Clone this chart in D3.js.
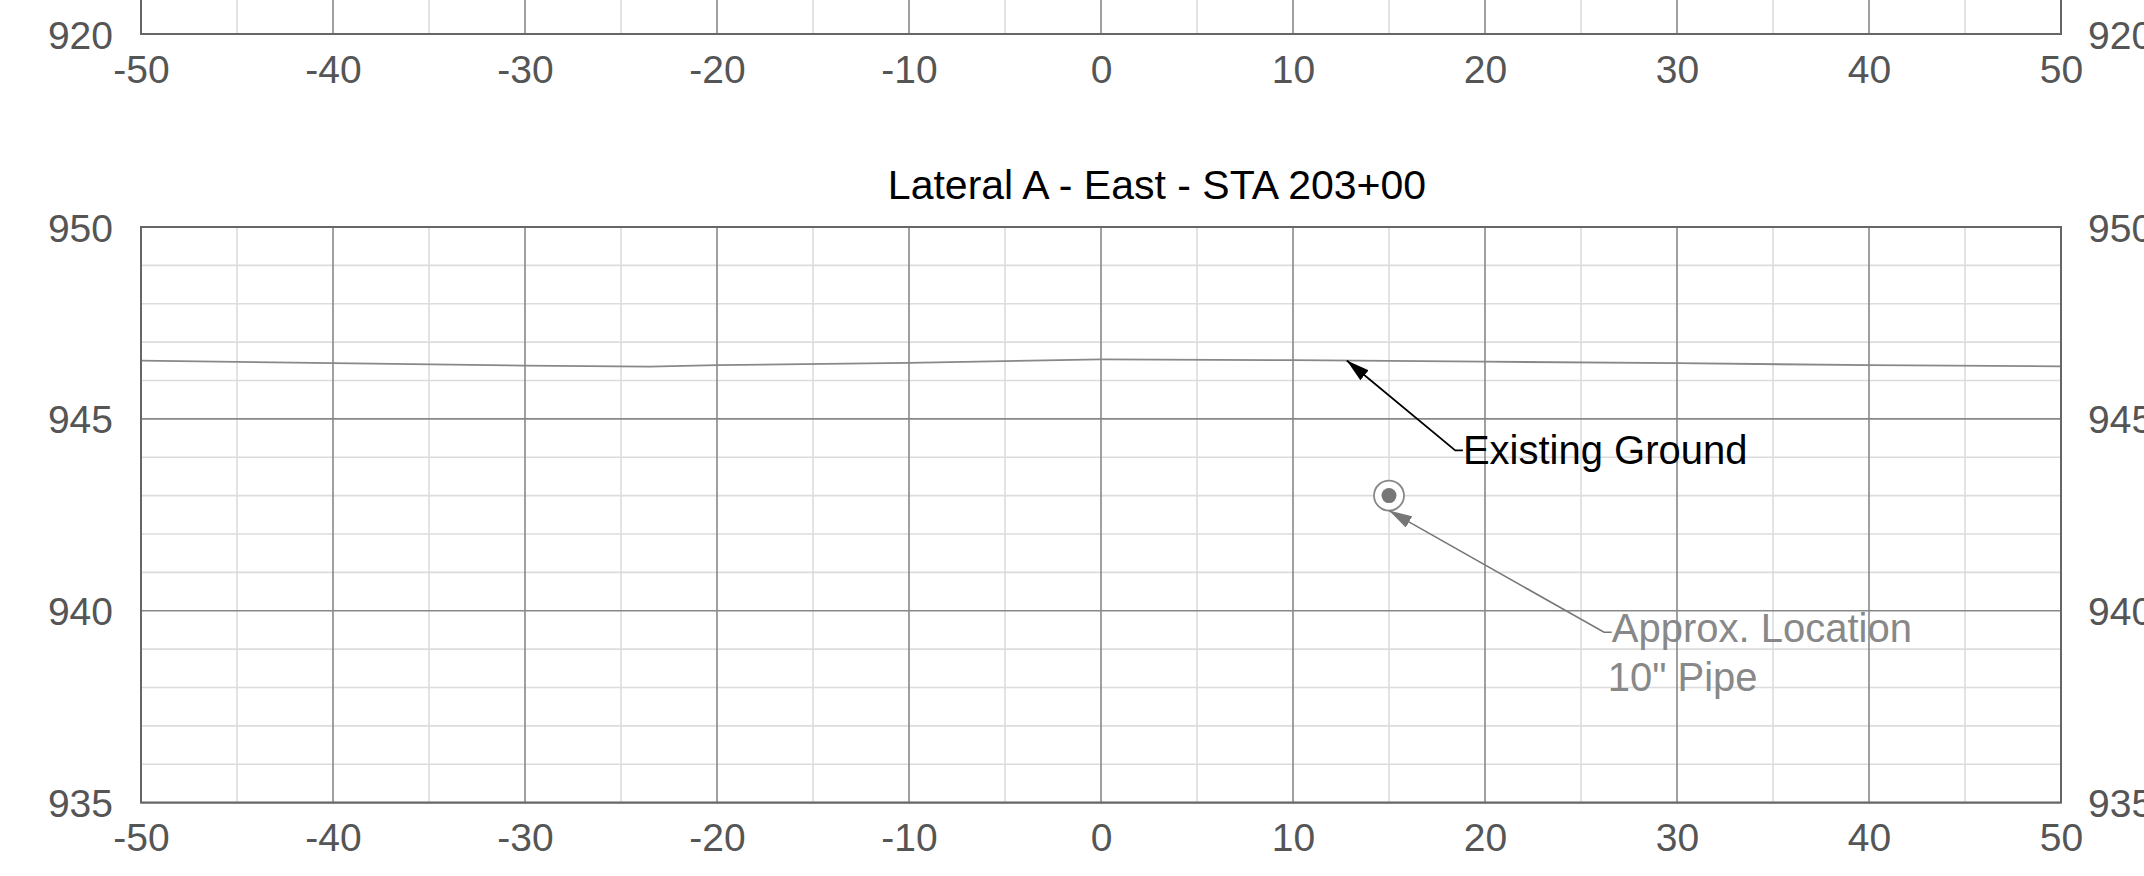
<!DOCTYPE html>
<html>
<head>
<meta charset="utf-8">
<script src="https://cdn.jsdelivr.net/npm/d3@7"></script>
<style>
html,body{margin:0;padding:0;background:#fff;overflow:hidden;}
svg{display:block;font-family:"Liberation Sans",Arial,Helvetica,sans-serif;}
</style>
</head>
<body>
<script>
// ---------- data ----------
const xTicks = [-50,-40,-30,-20,-10,0,10,20,30,40,50];
const xMinor = [-45,-35,-25,-15,-5,5,15,25,35,45];
const mainTitle = "Lateral A - East - STA 203+00";
const mainYTicks = [935,940,945,950];
const mainYDomain = [935,950];
const prevYTicks = [920];
const prevYDomain = [920,935];
// existing ground profile (offset ft, elevation ft)
const groundX    = [-50, -40, -30, -23.5, -20, -10, 0, 10, 20, 30, 40, 50];
const groundElev = [946.52, 946.45, 946.39, 946.36, 946.40, 946.46, 946.55, 946.53, 946.49, 946.45, 946.40, 946.37];
// pipe location
const pipeX = [15];
const pipeElev = [943.0];
// annotation labels
const groundLabel = ["Existing Ground"];
const pipeLabel = ["Approx. Location", "10\" Pipe"];

// ---------- layout ----------
const W = 2144, H = 876;
const left = 141, right = 2061;
const panelH = 575.6;
const mainTop = 227;
const prevTop = 34 - panelH;

const svg = d3.select("body").append("svg").attr("width", W).attr("height", H);

const defs = svg.append("defs");
function marker(id, color){
  defs.append("marker").attr("id", id)
    .attr("viewBox", "0 0 23 13").attr("refX", 23).attr("refY", 6.5)
    .attr("markerWidth", 23).attr("markerHeight", 13)
    .attr("markerUnits", "userSpaceOnUse").attr("orient", "auto")
    .append("path").attr("d", "M0,0 L23,6.5 L0,13 Z").attr("fill", color);
}
marker("arrBlack", "#000");
marker("arrGray", "#777");

const x = d3.scaleLinear().domain([-50,50]).range([left,right]);
const fmt = d => String(d);

function drawPanel(top, yDomain, yTicks){
  const y = d3.scaleLinear().domain(yDomain).range([top+panelH, top]);
  const g = svg.append("g");
  const yMinor = d3.range(yDomain[0], yDomain[1]+0.001, 1).filter(v => (v - yDomain[0]) % 5 !== 0);
  const yMajor = d3.range(yDomain[0], yDomain[1]+0.001, 5);
  // minor grid
  g.selectAll(".vmin").data(xMinor).join("line")
    .attr("x1", d=>x(d)).attr("x2", d=>x(d)).attr("y1", top).attr("y2", top+panelH)
    .attr("stroke", "#dcdcdc").attr("stroke-width", 1.6);
  g.selectAll(".hmin").data(yMinor).join("line")
    .attr("x1", left).attr("x2", right).attr("y1", d=>y(d)).attr("y2", d=>y(d))
    .attr("stroke", "#dcdcdc").attr("stroke-width", 1.6);
  // major grid
  g.selectAll(".vmaj").data(xTicks).join("line")
    .attr("x1", d=>x(d)).attr("x2", d=>x(d)).attr("y1", top).attr("y2", top+panelH)
    .attr("stroke", "#888").attr("stroke-width", 1.6);
  g.selectAll(".hmaj").data(yMajor).join("line")
    .attr("x1", left).attr("x2", right).attr("y1", d=>y(d)).attr("y2", d=>y(d))
    .attr("stroke", "#888").attr("stroke-width", 1.6);
  // axes labels
  const axB = g.append("g").attr("transform", `translate(0,${top+panelH})`)
    .call(d3.axisBottom(x).tickValues(xTicks).tickSize(0).tickPadding(21).tickFormat(fmt));
  const axL = g.append("g").attr("transform", `translate(${left},0)`)
    .call(d3.axisLeft(y).tickValues(yTicks).tickSize(0).tickPadding(28).tickFormat(fmt));
  const axR = g.append("g").attr("transform", `translate(${right},0)`)
    .call(d3.axisRight(y).tickValues(yTicks).tickSize(0).tickPadding(27).tickFormat(fmt));
  [axB, axL, axR].forEach(a => {
    a.select(".domain").remove();
    a.selectAll("text").attr("fill", "#555").style("font-size", "39px")
      .style("font-family", '"Liberation Sans",Arial,sans-serif');
  });
  axL.selectAll("text").attr("dy", "0.36em");
  axR.selectAll("text").attr("dy", "0.36em");
  return {g, y};
}

// previous (partially visible) panel
const prev = drawPanel(prevTop, prevYDomain, prevYTicks);
prev.g.append("rect").attr("x", left).attr("y", prevTop).attr("width", right-left).attr("height", panelH)
  .attr("fill", "none").attr("stroke", "#666").attr("stroke-width", 2);

// main panel
const main = drawPanel(mainTop, mainYDomain, mainYTicks);
const y = main.y;

// ground line
const ground = groundX.map((d,i)=>[d, groundElev[i]]);
main.g.append("path").datum(ground)
  .attr("d", d3.line().x(d=>x(d[0])).y(d=>y(d[1])))
  .attr("fill", "none").attr("stroke", "#888").attr("stroke-width", 1.8);

// frame
main.g.append("rect").attr("x", left).attr("y", mainTop).attr("width", right-left).attr("height", panelH)
  .attr("fill", "none").attr("stroke", "#666").attr("stroke-width", 2);

// title
svg.append("text").attr("x", 1157).attr("y", 199).attr("text-anchor", "middle")
  .style("font-size", "41px").attr("fill", "#000").text(mainTitle);

// pipe marker
const pipe = pipeX.map((d,i)=>[d, pipeElev[i]]);
main.g.selectAll(".pipeRing").data(pipe).join("circle")
  .attr("cx", d=>x(d[0])).attr("cy", d=>y(d[1])).attr("r", 15)
  .attr("fill", "#fff").attr("stroke", "#888").attr("stroke-width", 1.8);
main.g.selectAll(".pipeDot").data(pipe).join("circle")
  .attr("cx", d=>x(d[0])).attr("cy", d=>y(d[1])).attr("r", 7.5)
  .attr("fill", "#777");

// Existing ground annotation
const gTip = [12.8, 946.52];       // arrow tip on ground
const gElbow = [18.45, 944.18];     // leader elbow
const gTxt = [18.85, 944.18];
main.g.append("path")
  .attr("d", `M${x(gTxt[0])},${y(gTxt[1])} L${x(gElbow[0])},${y(gElbow[1])} L${x(gTip[0])},${y(gTip[1])}`)
  .attr("fill", "none").attr("stroke", "#000").attr("stroke-width", 1.8)
  .attr("marker-end", "url(#arrBlack)");
main.g.append("text").attr("x", x(gTxt[0])).attr("y", y(gTxt[1])).attr("dy", "0.33em")
  .style("font-size", "40px").attr("fill", "#000").text(groundLabel[0]);

// pipe annotation
const pTip = [pipeX[0], pipeElev[0] - 15/38.37];
const pElbow = [26.2, 939.44];
const pTxt = [26.6, 939.44];
main.g.append("path")
  .attr("d", `M${x(pTxt[0])},${y(pTxt[1])} L${x(pElbow[0])},${y(pElbow[1])} L${x(pTip[0])},${y(pTip[1])}`)
  .attr("fill", "none").attr("stroke", "#777").attr("stroke-width", 1.6)
  .attr("marker-end", "url(#arrGray)");
main.g.selectAll(".pipeLbl").data(pipeLabel).join("text")
  .attr("x", (d,i)=> x(pTxt[0]) + (i===0 ? 0 : -4))
  .attr("y", (d,i)=> y(pTxt[1]) - 3 + i*49).attr("dy", "0.33em")
  .style("font-size", "40px").attr("fill", "#888").text(d=>d);
</script>
</body>
</html>
